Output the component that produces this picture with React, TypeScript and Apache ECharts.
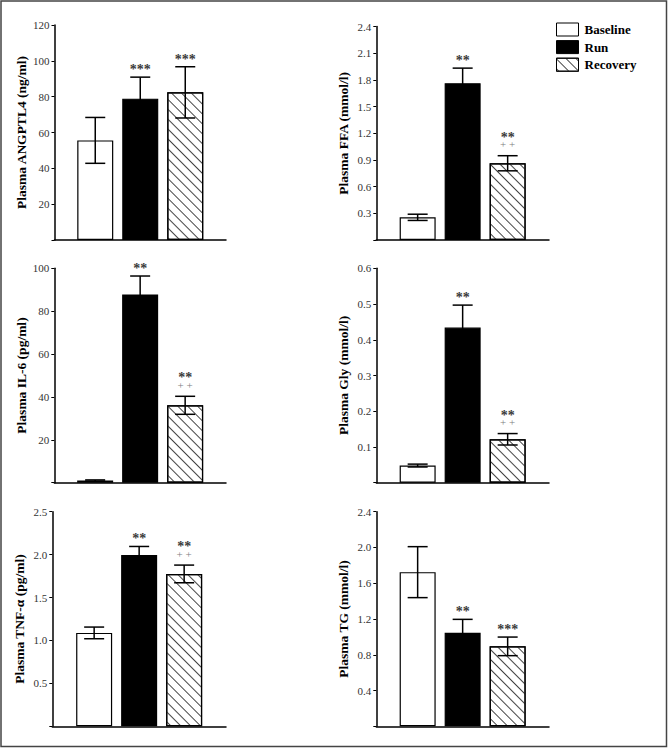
import React, { useEffect, useRef } from "react";
import * as echarts from "echarts";

const groups = ["Baseline", "Run", "Recovery"];

const yNames = [
  "Plasma ANGPTL4 (ng/ml)",
  "Plasma FFA (mmol/l)",
  "Plasma IL-6 (pg/ml)",
  "Plasma Gly (mmol/l)",
  "Plasma TNF-α (pg/ml)",
  "Plasma TG (mmol/l)",
];

const angptl4Mean = [55.6, 78.9, 82.4];
const angptl4Err = [12.8, 12.0, 14.3];
const angptl4Sig = ["", "***", "***"];
const angptl4Sig2 = ["", "", ""];

const ffaMean = [0.255, 1.763, 0.863];
const ffaErr = [0.035, 0.17, 0.085];
const ffaSig = ["", "**", "**"];
const ffaSig2 = ["", "", "++"];

const il6Mean = [1.0, 87.8, 36.1];
const il6Err = [0.3, 8.6, 4.2];
const il6Sig = ["", "**", "**"];
const il6Sig2 = ["", "", "++"];

const glyMean = [0.048, 0.434, 0.1215];
const glyErr = [0.004, 0.063, 0.016];
const glySig = ["", "**", "**"];
const glySig2 = ["", "", "++"];

const tnfMean = [1.088, 1.995, 1.775];
const tnfErr = [0.068, 0.1, 0.103];
const tnfSig = ["", "**", "**"];
const tnfSig2 = ["", "", "++"];

const tgMean = [1.724, 1.046, 0.894];
const tgErr = [0.285, 0.15, 0.104];
const tgSig = ["", "**", "***"];
const tgSig2 = ["", "", ""];

// y axis ranges
const axisMax = [120, 2.4, 100, 0.6, 2.5, 2.4];
const axisInterval = [20, 0.3, 20, 0.1, 0.5, 0.4];
const axisDecimals = [0, 1, 0, 1, 1, 1];

const means = [angptl4Mean, ffaMean, il6Mean, glyMean, tnfMean, tgMean];
const errs = [angptl4Err, ffaErr, il6Err, glyErr, tnfErr, tgErr];
const sigs = [angptl4Sig, ffaSig, il6Sig, glySig, tnfSig, tgSig];
const sigs2 = [angptl4Sig2, ffaSig2, il6Sig2, glySig2, tnfSig2, tgSig2];

const gridRects = [
  { left: 54.5, top: 25, width: 171.5, height: 215 },
  { left: 376.3, top: 26.6, width: 172.7, height: 213.4 },
  { left: 54.3, top: 268.3, width: 171.7, height: 214.4 },
  { left: 376.3, top: 268.3, width: 172.7, height: 214.4 },
  { left: 52.3, top: 511.7, width: 173.7, height: 214.6 },
  { left: 376.3, top: 511.7, width: 172.7, height: 214.6 },
];

const BAR_W = 36;
const BAR_GAP = 9;
const SERIF = "Liberation Serif";

const hatch = {
  symbol: "rect",
  symbolSize: 1,
  color: "#444",
  backgroundColor: "#ffffff",
  dashArrayX: [1, 0],
  dashArrayY: [1, 5.6],
  rotation: Math.PI / 4,
};

const barStyles: any[] = [
  { color: "#ffffff", borderColor: "#000", borderWidth: 1.2 },
  { color: "#000000", borderColor: "#000", borderWidth: 1.2 },
  { color: "#ffffff", borderColor: "#000", borderWidth: 1.2, decal: hatch },
];

function buildOption() {
  const grid: any[] = [];
  const xAxis: any[] = [];
  const yAxis: any[] = [];
  const series: any[] = [];

  for (let p = 0; p < 6; p++) {
    grid.push({ ...gridRects[p], containLabel: false });
    xAxis.push({
      type: "category",
      gridIndex: p,
      data: ["all"],
      axisLine: { show: true, onZero: false, lineStyle: { color: "#000", width: 1.5 } },
      axisTick: { show: false },
      axisLabel: { show: false },
      splitLine: { show: false },
    });
    const dec = axisDecimals[p];
    yAxis.push({
      type: "value",
      gridIndex: p,
      min: 0,
      max: axisMax[p],
      interval: axisInterval[p],
      name: yNames[p],
      nameLocation: "middle",
      nameGap: 26,
      nameTextStyle: { fontFamily: SERIF, fontWeight: "bold", fontSize: 13.5, color: "#000" },
      axisLine: { show: true, lineStyle: { color: "#000", width: 1.5 } },
      axisTick: { show: true, length: 3, lineStyle: { color: "#000", width: 1 } },
      axisLabel: {
        fontFamily: SERIF,
        fontSize: 11,
        color: "#333",
        margin: 5,
        formatter: (v: number) => (Math.abs(v) < 1e-9 ? "" : v.toFixed(dec)),
      },
      splitLine: { show: false },
    });

    for (let g = 0; g < 3; g++) {
      series.push({
        type: "bar",
        name: groups[g],
        xAxisIndex: p,
        yAxisIndex: p,
        data: [means[p][g]],
        barWidth: BAR_W,
        barGap: (BAR_GAP / BAR_W) * 100 + "%",
        itemStyle: barStyles[g],
        emphasis: { disabled: true },
        silent: true,
      });
    }

    const sig = sigs[p];
    const sig2 = sigs2[p];
    series.push({
      type: "custom",
      xAxisIndex: p,
      yAxisIndex: p,
      z: 10,
      silent: true,
      data: groups.map((_, i) => [0, means[p][i], errs[p][i], i]),
      renderItem: (params: any, api: any) => {
        const m = api.value(1);
        const e = api.value(2);
        const i = api.value(3);
        const base = api.coord([0, 0]);
        const cx = base[0] + (i - 1) * (BAR_W + BAR_GAP);
        const yT = api.coord([0, m + e])[1];
        const yB = api.coord([0, Math.max(m - e, 0)])[1];
        const capHalf = 10;
        const ls = { stroke: "#000", lineWidth: 1.5 };
        const children: any[] = [
          { type: "line", shape: { x1: cx, y1: yB, x2: cx, y2: yT }, style: ls },
          { type: "line", shape: { x1: cx - capHalf, y1: yT, x2: cx + capHalf, y2: yT }, style: ls },
          { type: "line", shape: { x1: cx - capHalf, y1: yB, x2: cx + capHalf, y2: yB }, style: ls },
        ];
        const s1 = sig[i];
        const s2 = sig2[i];
        if (s2) {
          children.push({
            type: "text",
            x: cx,
            y: yT - 11.5,
            style: {
              text: s2.split("").join(" "),
              fill: "#808080",
              fontSize: 11,
              fontFamily: SERIF,
              align: "center",
              verticalAlign: "middle",
            },
          });
        }
        if (s1) {
          children.push({
            type: "text",
            x: cx,
            y: yT - (s2 ? 18.5 : 7.5),
            style: {
              text: s1,
              fill: "#3a3a3a",
              fontSize: 14,
              fontWeight: "bold",
              fontFamily: SERIF,
              align: "center",
              verticalAlign: "middle",
            },
          });
        }
        return { type: "group", children };
      },
    });
  }

  return {
    animation: false,
    backgroundColor: "#ffffff",
    grid,
    xAxis,
    yAxis,
    series,
    legend: {
      show: true,
      selectedMode: false,
      orient: "vertical",
      left: 556,
      top: 22.5,
      padding: 0,
      icon: "rect",
      itemWidth: 22,
      itemHeight: 13,
      itemGap: 3.6,
      data: groups,
      itemStyle: { borderWidth: 1, borderColor: "#000" },
      textStyle: { fontFamily: SERIF, fontWeight: "bold", fontSize: 13, color: "#000", padding: [0, 0, 0, 1] },
    },
    graphic: [
      {
        type: "rect",
        silent: true,
        shape: { x: 1, y: 1, width: 665.5, height: 745.5 },
        style: { fill: "none", stroke: "#444", lineWidth: 1.5 },
      },
    ],
  };
}

export default function App() {
  const ref = useRef<HTMLDivElement>(null);
  useEffect(() => {
    if (!ref.current) return;
    const chart = echarts.init(ref.current, null, { renderer: "svg" });
    chart.setOption(buildOption() as any);
    return () => chart.dispose();
  }, []);
  return (
    <div
      ref={ref}
      style={{ position: "absolute", left: 0, top: 0, width: 668, height: 748, background: "#fff" }}
    />
  );
}
